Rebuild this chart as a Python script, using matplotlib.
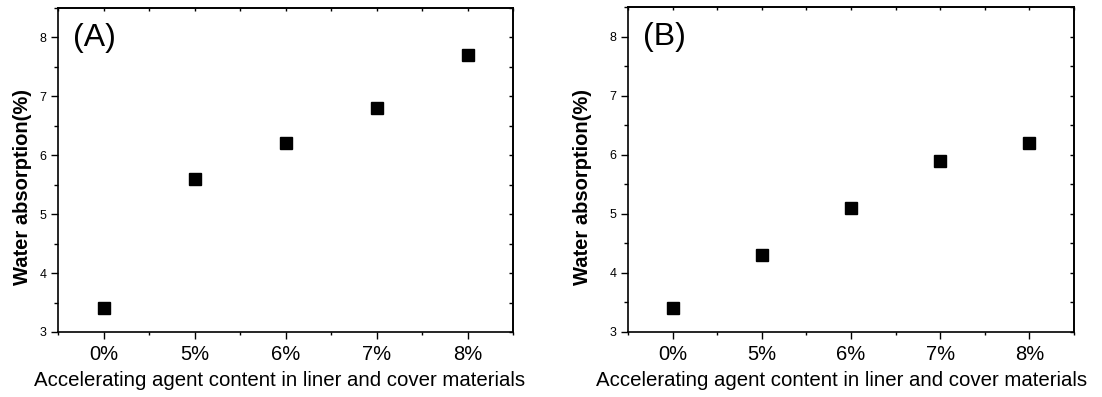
import matplotlib.pyplot as plt
from matplotlib.ticker import MultipleLocator

plt.rcParams['font.family'] = ['Liberation Sans', 'DejaVu Sans']

# categories and values
categories = ['0%', '5%', '6%', '7%', '8%']
water_a = [3.4, 5.6, 6.2, 6.8, 7.7]
water_b = [3.4, 4.3, 5.1, 5.9, 6.2]
panel_labels = ['(A)', '(B)']

fig = plt.figure(figsize=(11.02, 3.97), dpi=100)
ax_a = fig.add_axes([58 / 1102, 65 / 397, 455 / 1102, 324 / 397])
ax_b = fig.add_axes([628 / 1102, 65 / 397, 446 / 1102, 325 / 397])

xlabel_pos = [0.488, 0.478]
ylabel_pos = [-0.057, -0.081]

for ax, vals, lab, lx, ly in zip([ax_a, ax_b], [water_a, water_b], panel_labels,
                                 xlabel_pos, ylabel_pos):
    x = list(range(len(categories)))
    ax.plot(x, vals, 's', color='black', markersize=9, linestyle='none')
    ax.set_xlim(-0.5, len(categories) - 0.5)
    ax.set_ylim(3, 8.5)
    ax.set_xticks(x)
    ax.set_xticklabels(categories, fontsize=14.5)
    ax.xaxis.set_minor_locator(MultipleLocator(1, offset=0.5))
    ax.yaxis.set_major_locator(MultipleLocator(1))
    ax.yaxis.set_minor_locator(MultipleLocator(0.5))
    ax.tick_params(axis='y', which='major', labelsize=9, length=5, width=1, direction='out')
    ax.tick_params(axis='y', which='minor', length=3, width=1, direction='out')
    ax.tick_params(axis='x', which='major', length=5, width=1, direction='out', pad=4)
    ax.tick_params(axis='x', which='minor', length=2, width=1, direction='out')
    for s in ax.spines.values():
        s.set_linewidth(1.2)

    # inward ticks on the right and top
    sec_y = ax.secondary_yaxis('right')
    sec_y.yaxis.set_major_locator(MultipleLocator(0.5))
    sec_y.tick_params(direction='in', length=3, width=1, labelright=False)
    sec_y.spines['right'].set_linewidth(1.2)
    sec_x = ax.secondary_xaxis('top')
    sec_x.set_xticks(x)
    sec_x.xaxis.set_minor_locator(MultipleLocator(1, offset=0.5))
    sec_x.tick_params(which='both', direction='in', length=2, width=1, labeltop=False)
    sec_x.spines['top'].set_linewidth(1.2)

    ax.set_xlabel('Accelerating agent content in liner and cover materials', fontsize=14.7)
    ax.xaxis.set_label_coords(lx, -0.12)
    ax.set_ylabel('Water absorption(%)', fontsize=14.5, fontweight='bold')
    ax.yaxis.set_label_coords(ly, 0.447)
    ax.text(0.033, 0.955, lab, transform=ax.transAxes, fontsize=23, va='top', ha='left')

fig.savefig('out.png', dpi=100)
